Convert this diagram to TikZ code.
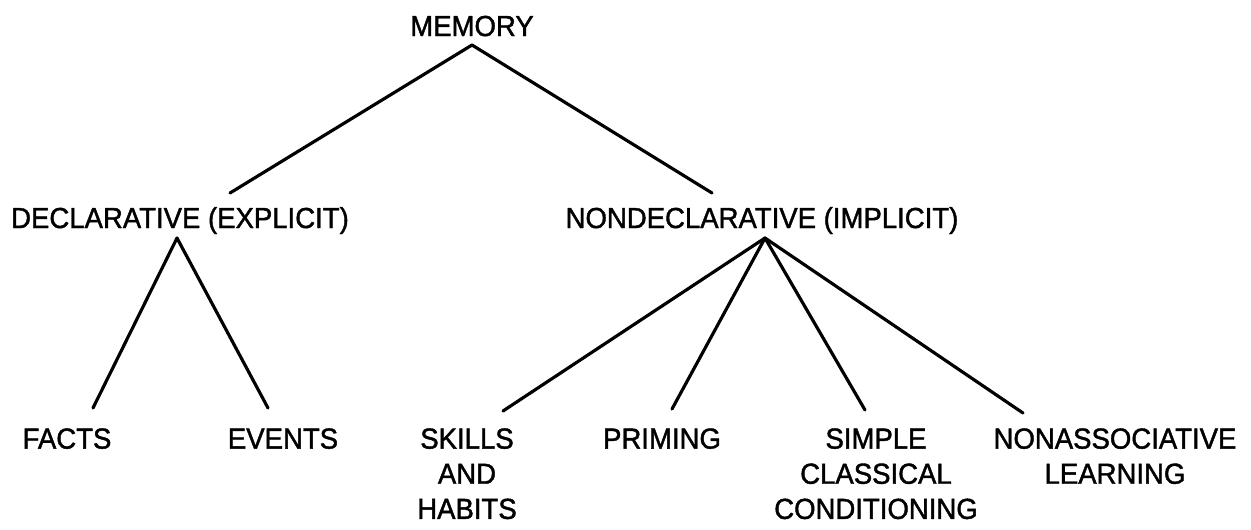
\documentclass[tikz,border=0pt]{standalone}
\usepackage{fontspec}
\setmainfont{Liberation Sans}[FakeStretch=0.95, FakeBold=1.4]
\usetikzlibrary{calc, positioning}

\begin{document}
\begin{tikzpicture}[x=0.02cm, y=-0.02cm,
  term/.style={font=\fontsize{16.5}{20}\selectfont, inner sep=0pt, align=center},
  branch/.style={line width=1.8pt, line cap=round}]
\useasboundingbox (0,0) rectangle (1251,529);

% levels of the tree
\node[term, anchor=base] (mem) at (472,36) {MEMORY};
\node[term, anchor=base] (decl) at (180,228) {DECLARATIVE (EXPLICIT)};
\node[term, anchor=base] (nondecl) at (762,228) {NONDECLARATIVE (IMPLICIT)};

\node[term, anchor=north] (facts) at (67,428) {FACTS};
\node[term, anchor=north] (events) at (283,428) {EVENTS};
\node[term, anchor=north] (skills) at (467,428) {SKILLS\\AND\\HABITS};
\node[term, anchor=north] (priming) at (662,428) {PRIMING};
\node[term, anchor=north] (simple) at (876,428) {SIMPLE\\CLASSICAL\\CONDITIONING};
\node[term, anchor=north] (nonassoc) at (1115,428) {NONASSOCIATIVE\\LEARNING};

% branch points
\coordinate (memTip) at ($(mem.base)+(0,9)$);
\coordinate (declTip) at ($(decl.base)+(-3,10)$);
\coordinate (nondeclTip) at ($(nondecl.base)+(3,10)$);

\draw[branch] (memTip) -- ($(decl.base)+(50,-35)$);
\draw[branch] (memTip) -- ($(nondecl.base)+(-50,-35)$);

\draw[branch] (declTip) -- ($(facts.north)+(26,-20)$);
\draw[branch] (declTip) -- ($(events.north)+(-15,-20)$);

\draw[branch] (nondeclTip) -- ($(skills.north)+(36,-17)$);
\draw[branch] (nondeclTip) -- ($(priming.north)+(10,-19)$);
\draw[branch] (nondeclTip) -- ($(simple.north)+(-11,-18)$);
\draw[branch] (nondeclTip) -- ($(nonassoc.north)+(-92,-15)$);
\end{tikzpicture}
\end{document}
